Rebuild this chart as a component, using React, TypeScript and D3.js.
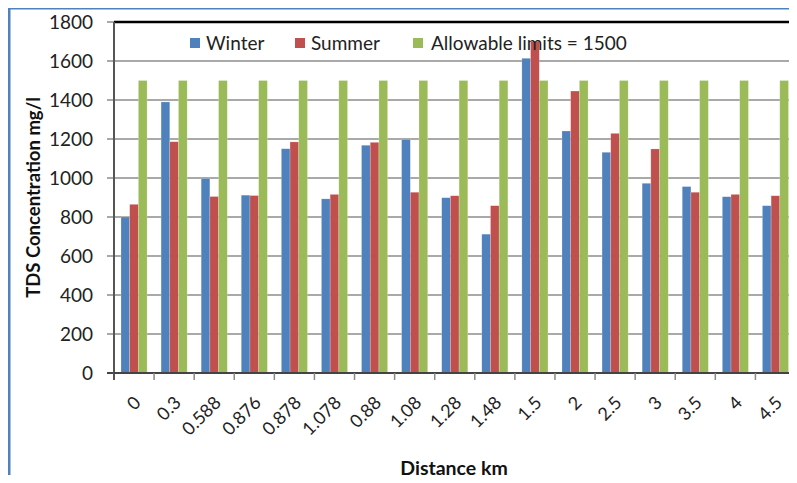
import React from "react";
import * as d3 from "d3";

const categories = ["0", "0.3", "0.588", "0.876", "0.878", "1.078", "0.88", "1.08", "1.28", "1.48", "1.5", "2", "2.5", "3", "3.5", "4", "4.5"];
const winter = [800, 1390, 998, 912, 1150, 893, 1168, 1198, 899, 712, 1614, 1241, 1132, 973, 956, 904, 858];
const summer = [865, 1186, 905, 910, 1185, 916, 1183, 927, 909, 858, 1700, 1446, 1229, 1149, 927, 916, 909];
const limits = categories.map(() => 1500);
const yTicks = [0, 200, 400, 600, 800, 1000, 1200, 1400, 1600, 1800];
const seriesNames = ["Winter", "Summer", "Allowable limits = 1500"];
const colors = ["#4f81bd", "#c0504d", "#9bbb59"];

export default function App() {
  const W = 797, H = 483;
  const left = 114, right = 795.5, top = 22, bottom = 373;
  const x = d3.scaleBand<string>().domain(categories).range([left, right]).paddingInner(0).paddingOuter(0);
  const y = d3.scaleLinear().domain([0, 1800]).range([bottom, top]);
  const bw = x.bandwidth();
  const barW = bw * 0.217;
  const groupW = barW * 3;
  const series = [winter, summer, limits];
  const font = "Lato, 'Open Sans', sans-serif";
  const legendItems = [
    { sx: 190, tx: 206 },
    { sx: 295, tx: 311 },
    { sx: 413, tx: 431 },
  ];
  return (
    <div style={{ margin: -8, width: W, height: H }}>
      <svg width={W} height={H} style={{ display: "block", fontFamily: font }}>
        <rect x={0} y={0} width={W} height={H} fill="#fff" />
        {/* outer frame */}
        <line x1={9} y1={8} x2={W} y2={8} stroke="#4f81bd" strokeWidth={3} />
        <line x1={9} y1={8} x2={9} y2={482} stroke="#4f81bd" strokeWidth={3} />
        <line x1={9} y1={482} x2={W} y2={482} stroke="#9dc3e6" strokeWidth={1.5} />
        {/* gridlines */}
        {yTicks.map((t) => (
          <line key={t} x1={left - 7} x2={right} y1={y(t)} y2={y(t)} stroke={t === 0 ? "#444" : "#8c8c8c"} strokeWidth={t === 0 ? 2 : 1.6} />
        ))}
        {/* bars */}
        {series.map((vals, si) =>
          vals.map((v, i) => {
            const bx = (x(categories[i]) as number) + (bw - groupW) / 2 + si * barW;
            return (
              <rect key={`${si}-${i}`} x={bx} y={y(v)} width={barW} height={bottom - y(v)} fill={colors[si]} stroke="#ffffff" strokeOpacity={0.35} strokeWidth={0.6} />
            );
          })
        )}
        {/* borders */}
        <line x1={left} x2={right + 1} y1={top} y2={top} stroke="#000" strokeWidth={2.5} />
        <line x1={right} x2={right} y1={top} y2={bottom} stroke="#000" strokeWidth={1.2} />
        <line x1={left} x2={left} y1={top} y2={bottom + 7} stroke="#555" strokeWidth={2} />
        <line x1={left} x2={right} y1={bottom} y2={bottom} stroke="#444" strokeWidth={2} />
        {/* x ticks */}
        {categories.map((c, i) => (
          <line key={c + i} x1={(x(c) as number) + bw} x2={(x(c) as number) + bw} y1={bottom} y2={bottom + 7} stroke="#888" strokeWidth={1.5} />
        ))}
        {/* y labels */}
        {yTicks.map((t) => (
          <text key={t} x={93} y={y(t)} dy="0.36em" textAnchor="end" fontSize={19} fill="#222">{t}</text>
        ))}
        {/* x labels */}
        {categories.map((c, i) => {
          const cx = (x(c) as number) + bw / 2 - 1;
          const cy = bottom + 22;
          return (
            <text key={"l" + i} x={cx} y={cy} dy="0.7em" textAnchor="end" fontSize={18} fill="#222" transform={`rotate(-45 ${cx} ${cy})`}>{c}</text>
          );
        })}
        {/* legend */}
        {legendItems.map((it, i) => (
          <g key={i}>
            <rect x={it.sx} y={38} width={10} height={10} fill={colors[i]} />
            <text x={it.tx} y={50} fontSize={19} fill="#222">{seriesNames[i]}</text>
          </g>
        ))}
        {/* axis titles */}
        <text x={454} y={475} textAnchor="middle" fontSize={19.5} fontWeight="bold" fill="#111">Distance km</text>
        <text transform={`translate(40 ${(top + bottom) / 2}) rotate(-90)`} textAnchor="middle" fontSize={18.5} fontWeight="bold" fill="#111">TDS Concentration mg/l</text>
      </svg>
    </div>
  );
}
